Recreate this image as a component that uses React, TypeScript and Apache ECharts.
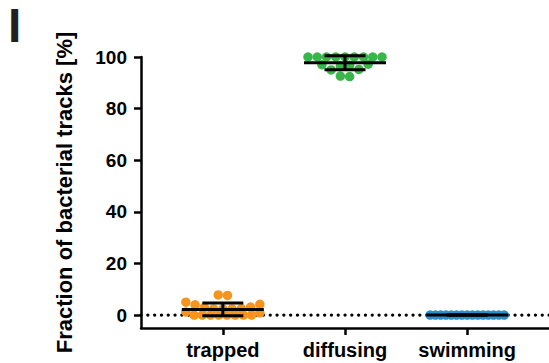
import { useEffect, useRef } from "react";
import * as echarts from "echarts";

// Group names along the x axis
const CATEGORIES = ["trapped", "diffusing", "swimming"];
const COLORS = ["#f7941d", "#39b54a", "#2b8fce"];

// Percentage of tracks per experiment, one array per group
const TRAPPED = [7.8, 7.6, 5.0, 4.0, 3.0, 2.4, 2.4, 2.4, 2.5, 3.1, 4.2, 1.2, 0, 0, 0, 0, 0, 0, 0, 0, 0.9];
const DIFFUSING = [100, 100, 100, 100, 100, 100, 100, 100, 100, 97.0, 95.0, 96.5, 96.8, 95.2, 97.2, 92.6, 92.4];
const SWIMMING = [0, 0, 0, 0, 0, 0, 0, 0, 0, 0, 0, 0, 0, 0, 0];
const GROUPS = [TRAPPED, DIFFUSING, SWIMMING];

const Y_TICKS = [0, 20, 40, 60, 80, 100];
const X_TICKS = [1, 2, 3];

const W = 549;
const H = 363;
const GRID = { left: 141, right: 0, top: 57, bottom: 35 };
const X_MIN = 0.33;
const X_MAX = 3.67;
const Y_MIN = -5;
const Y_MAX = 100;
const FONT = "'Liberation Sans', Arial, Helvetica, sans-serif";

const pxPerX = (W - GRID.left - GRID.right) / (X_MAX - X_MIN);
const pxPerY = (H - GRID.top - GRID.bottom) / (Y_MAX - Y_MIN);
const DOT = 9.5; // dot diameter, px
const STEP = 9.25; // horizontal spacing of dots in a row, px
const ROW_TOL = 7; // values closer than this (px) share a row
const HALF_SPREAD = 37; // widest half-width of a row, px

// Scatter-dot layout: values are grouped into rows and each row is
// spread symmetrically around the group centre.
function swarm(values: number[], center: number): number[][] {
  const order = values.map((_, i) => i).sort((a, b) => values[b] - values[a] || a - b);
  const rows: number[][] = [];
  let start = NaN;
  for (const i of order) {
    if (rows.length && (start - values[i]) * pxPerY <= ROW_TOL) {
      rows[rows.length - 1].push(i);
    } else {
      rows.push([i]);
      start = values[i];
    }
  }
  const out: number[][] = new Array(values.length);
  for (const row of rows) {
    row.sort((a, b) => a - b);
    const n = row.length;
    const step = n > 1 ? Math.min(STEP, (2 * HALF_SPREAD) / (n - 1)) : 0;
    row.forEach((i, k) => {
      out[i] = [center + ((k - (n - 1) / 2) * step) / pxPerX, values[i]];
    });
  }
  return out;
}

function meanSd(values: number[]): [number, number] {
  const n = values.length;
  const mean = values.reduce((s, v) => s + v, 0) / n;
  const sd = n > 1 ? Math.sqrt(values.reduce((s, v) => s + (v - mean) ** 2, 0) / (n - 1)) : 0;
  return [mean, sd];
}

export default function App() {
  const ref = useRef<HTMLDivElement>(null);

  useEffect(() => {
    document.body.style.margin = "0";
    if (!ref.current) return;
    const chart = echarts.init(ref.current, undefined, { renderer: "svg" });

    const scatterSeries = GROUPS.map((vals, gi) => ({
      type: "scatter",
      name: CATEGORIES[gi],
      data: swarm(vals, gi + 1),
      symbol: "circle",
      symbolSize: DOT,
      itemStyle: { color: COLORS[gi], opacity: 1 },
      z: 2,
      silent: true,
    }));

    const stats = GROUPS.map((vals, gi) => {
      const [m, s] = meanSd(vals);
      return [gi + 1, m, s];
    });

    const MEAN_HALF = 41;
    const CAP_HALF = 20.5;

    const option: any = {
      animation: false,
      backgroundColor: "#fff",
      grid: { ...GRID, containLabel: false },
      xAxis: {
        type: "value",
        min: X_MIN,
        max: X_MAX,
        splitLine: { show: false },
        axisLine: { show: true, onZero: false, lineStyle: { color: "#000", width: 2.5 } },
        axisTick: {
          show: true,
          customValues: X_TICKS,
          length: 7,
          lineStyle: { color: "#000", width: 2.5 },
        },
        axisLabel: {
          customValues: X_TICKS,
          formatter: (v: number) => CATEGORIES[Math.round(v) - 1] ?? "",
          color: "#000",
          fontSize: 20,
          fontWeight: "bold",
          fontFamily: FONT,
          margin: 12,
        },
      },
      yAxis: {
        type: "value",
        min: Y_MIN,
        max: Y_MAX,
        name: "Fraction of bacterial tracks [%]",
        nameLocation: "middle",
        nameGap: 66,
        nameMoveOverlap: false,
        nameTextStyle: { color: "#000", fontSize: 22, fontWeight: "bold", fontFamily: FONT },
        splitLine: { show: false },
        axisLine: { show: true, onZero: false, lineStyle: { color: "#000", width: 2.5 } },
        axisTick: {
          show: true,
          customValues: Y_TICKS,
          length: 7,
          lineStyle: { color: "#000", width: 2.5 },
        },
        axisLabel: {
          customValues: Y_TICKS,
          color: "#000",
          fontSize: 19,
          fontWeight: "bold",
          fontFamily: FONT,
          margin: 14,
        },
      },
      graphic: [
        {
          type: "text",
          x: 8,
          y: 25,
          style: {
            text: "I",
            fontSize: 48,
            lineHeight: 40,
            fontWeight: "bold",
            fontFamily: FONT,
            fill: "#231f20",
            verticalAlign: "middle",
          },
        },
      ],
      series: [
        {
          type: "line",
          data: [
            [X_MIN, 0],
            [X_MAX, 0],
          ],
          symbol: "none",
          silent: true,
          z: 1,
          lineStyle: { color: "#000", width: 3.2, type: [0.1, 6.7], cap: "round" },
        },
        ...scatterSeries,
        {
          type: "custom",
          data: stats,
          encode: { x: 0, y: 1 },
          z: 3,
          silent: true,
          renderItem: (_params: any, api: any) => {
            const x = api.value(0);
            const m = api.value(1);
            const s = api.value(2);
            const [cx, cy] = api.coord([x, m]);
            const top = api.coord([x, m + s])[1];
            const bot = api.coord([x, m - s])[1];
            const style = { stroke: "#000", lineWidth: 3, fill: null };
            return {
              type: "group",
              children: [
                { type: "line", shape: { x1: cx - MEAN_HALF, y1: cy, x2: cx + MEAN_HALF, y2: cy }, style },
                { type: "line", shape: { x1: cx, y1: top, x2: cx, y2: bot }, style },
                { type: "line", shape: { x1: cx - CAP_HALF, y1: top, x2: cx + CAP_HALF, y2: top }, style },
                { type: "line", shape: { x1: cx - CAP_HALF, y1: bot, x2: cx + CAP_HALF, y2: bot }, style },
              ],
            };
          },
        },
      ],
    };

    chart.setOption(option);
    return () => chart.dispose();
  }, []);

  return <div ref={ref} style={{ width: W, height: H }} />;
}
